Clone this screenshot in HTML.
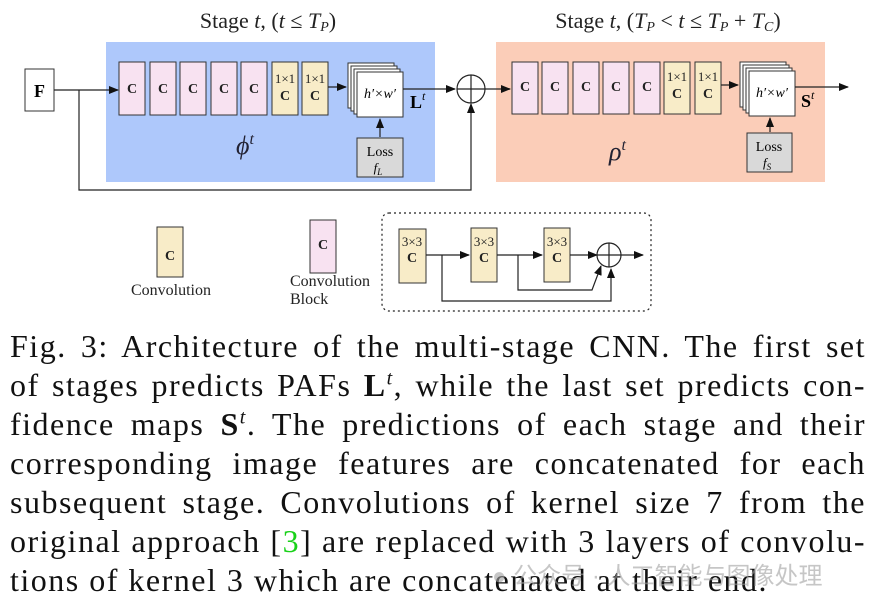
<!DOCTYPE html>
<html><head><meta charset="utf-8"><style>
body{margin:0;width:876px;height:606px;background:#fff;position:relative;overflow:hidden}
svg{position:absolute;left:0;top:0}
.cap{position:absolute;left:10px;width:856px;font-family:"Liberation Serif",serif;font-size:32px;letter-spacing:1.5px;line-height:39px;color:#111}
.ln{display:block;text-align:justify;text-align-last:justify;white-space:nowrap;height:39px}
.last{text-align-last:left}
.wm{position:absolute;left:492px;top:556px;font-family:"Liberation Sans","Noto Sans CJK SC",sans-serif;font-size:24px;color:rgba(160,160,160,0.6)}
</style></head><body>
<svg width="876" height="330" viewBox="0 0 876 330" font-family="Liberation Serif, serif">
<defs><marker id="a" markerWidth="10" markerHeight="8" refX="9" refY="4" orient="auto" markerUnits="userSpaceOnUse"><path d="M0,0L10,4L0,8z" fill="#111"/></marker></defs>
<text x="268" y="28" font-size="22" text-anchor="middle" fill="#222">Stage <tspan font-style="italic">t</tspan>, (<tspan font-style="italic">t</tspan> ≤ <tspan font-style="italic">T<tspan font-size="14" dy="3">P</tspan></tspan><tspan dy="-3">)</tspan></text>
<text x="668" y="28" font-size="22" text-anchor="middle" fill="#222">Stage <tspan font-style="italic">t</tspan>, (<tspan font-style="italic">T<tspan font-size="14" dy="3">P</tspan></tspan><tspan dy="-3"> &lt; </tspan><tspan font-style="italic">t</tspan> ≤ <tspan font-style="italic">T<tspan font-size="14" dy="3">P</tspan></tspan><tspan dy="-3"> + </tspan><tspan font-style="italic">T<tspan font-size="14" dy="3">C</tspan></tspan><tspan dy="-3">)</tspan></text>
<rect x="106" y="42" width="329" height="140" fill="#aec8fb"/>
<rect x="496" y="42" width="329" height="140" fill="#fbcdb8"/>
<rect x="25" y="69" width="29" height="42" fill="#fff" stroke="#333"/>
<text x="39.5" y="97" font-size="18" font-weight="bold" text-anchor="middle">F</text>
<line x1="54" y1="90" x2="118" y2="90" stroke="#222" stroke-width="1.2" marker-end="url(#a)"/>
<polyline points="79,90 79,190 471,190 471,104" fill="none" stroke="#222" stroke-width="1.2" marker-end="url(#a)"/>
<g stroke="#333" stroke-width="1">
<rect x="119" y="62" width="26" height="53" fill="#f8e2f1"/><rect x="150" y="62" width="26" height="53" fill="#f8e2f1"/><rect x="180" y="62" width="26" height="53" fill="#f8e2f1"/><rect x="211" y="62" width="26" height="53" fill="#f8e2f1"/><rect x="241" y="62" width="26" height="53" fill="#f8e2f1"/>
<rect x="272" y="62" width="26" height="53" fill="#f8ecc8"/><rect x="302" y="62" width="26" height="53" fill="#f8ecc8"/>
<rect x="512" y="62" width="26" height="52" fill="#f8e2f1"/><rect x="542" y="62" width="26" height="52" fill="#f8e2f1"/><rect x="573" y="62" width="26" height="52" fill="#f8e2f1"/><rect x="603" y="62" width="26" height="52" fill="#f8e2f1"/><rect x="634" y="62" width="26" height="52" fill="#f8e2f1"/>
<rect x="664" y="62" width="26" height="52" fill="#f8ecc8"/><rect x="695" y="62" width="26" height="52" fill="#f8ecc8"/>
<rect x="348" y="63" width="46" height="45" fill="#fff"/><rect x="351" y="66" width="46" height="45" fill="#fff"/><rect x="354" y="69" width="46" height="45" fill="#fff"/><rect x="357" y="72" width="46" height="45" fill="#fff"/>
<rect x="740" y="62" width="46" height="45" fill="#fff"/><rect x="743" y="65" width="46" height="45" fill="#fff"/><rect x="746" y="68" width="46" height="45" fill="#fff"/><rect x="749" y="71" width="46" height="45" fill="#fff"/>
<rect x="357" y="138" width="46" height="39" fill="#d9d9d9"/><rect x="747" y="133" width="45" height="39" fill="#d9d9d9"/>
<rect x="157" y="227" width="26" height="50" fill="#f8ecc8"/><rect x="310" y="220" width="26" height="53" fill="#f8e2f1"/>
<rect x="399" y="229" width="27" height="54" fill="#f8ecc8"/><rect x="471" y="228" width="26" height="54" fill="#f8ecc8"/><rect x="544" y="228" width="26" height="54" fill="#f8ecc8"/>
</g>
<g font-size="14" font-weight="bold" text-anchor="middle" fill="#222">
<text x="132" y="93">C</text><text x="163" y="93">C</text><text x="193" y="93">C</text><text x="224" y="93">C</text><text x="254" y="93">C</text>
<text x="525" y="91">C</text><text x="555" y="91">C</text><text x="586" y="91">C</text><text x="616" y="91">C</text><text x="647" y="91">C</text>
<text x="285" y="100">C</text><text x="315" y="100">C</text><text x="677" y="98">C</text><text x="708" y="98">C</text>
<text x="170" y="260">C</text><text x="323" y="249">C</text>
<text x="412" y="262">C</text><text x="484" y="262">C</text><text x="557" y="262">C</text>
</g>
<g font-size="13" text-anchor="middle" fill="#222">
<text x="285" y="83">1×1</text><text x="315" y="83">1×1</text><text x="677" y="81">1×1</text><text x="708" y="81">1×1</text>
<text x="412" y="246">3×3</text><text x="484" y="246">3×3</text><text x="557" y="246">3×3</text>
</g>
<text x="380" y="98" font-size="14" font-style="italic" text-anchor="middle">h′×w′</text>
<text x="772" y="97" font-size="14" font-style="italic" text-anchor="middle">h′×w′</text>
<text x="380" y="156" font-size="14" text-anchor="middle">Loss</text><text x="378" y="172" font-size="13" font-style="italic" text-anchor="middle">f<tspan font-size="9" dy="3">L</tspan></text>
<text x="769" y="151" font-size="14" text-anchor="middle">Loss</text><text x="767" y="167" font-size="13" font-style="italic" text-anchor="middle">f<tspan font-size="9" dy="3">S</tspan></text>
<text x="410" y="108" font-size="18" font-weight="bold">L<tspan font-size="12" font-style="italic" font-weight="normal" dy="-8">t</tspan></text>
<text x="801" y="107" font-size="18" font-weight="bold">S<tspan font-size="12" font-style="italic" font-weight="normal" dy="-8">t</tspan></text>
<text x="236" y="154" font-size="26" font-style="italic" fill="#223">ϕ<tspan font-size="16" dy="-10">t</tspan></text>
<text x="609" y="160" font-size="26" font-style="italic" fill="#223">ρ<tspan font-size="16" dy="-10">t</tspan></text>
<g stroke="#222" stroke-width="1.2" fill="none">
<line x1="328" y1="87" x2="346" y2="87" marker-end="url(#a)"/>
<line x1="380" y1="137" x2="380" y2="119" marker-end="url(#a)"/>
<line x1="770" y1="132" x2="770" y2="118" marker-end="url(#a)"/>
<line x1="403" y1="89" x2="455" y2="89" marker-end="url(#a)"/>
<line x1="485" y1="89" x2="510" y2="89" marker-end="url(#a)"/>
<line x1="721" y1="85" x2="738" y2="85" marker-end="url(#a)"/>
<line x1="795" y1="87" x2="848" y2="87" marker-end="url(#a)"/>
<circle cx="471" cy="89" r="14"/><line x1="457" y1="89" x2="485" y2="89"/><line x1="471" y1="75" x2="471" y2="103"/>
<rect x="382" y="213" width="269" height="98" rx="7" stroke-dasharray="2,3"/>
<line x1="426" y1="255" x2="469" y2="255" marker-end="url(#a)"/>
<line x1="497" y1="255" x2="542" y2="255" marker-end="url(#a)"/>
<line x1="570" y1="255" x2="597" y2="255" marker-end="url(#a)"/>
<line x1="621" y1="255" x2="643" y2="255" marker-end="url(#a)"/>
<circle cx="609" cy="255" r="12"/><line x1="597" y1="255" x2="621" y2="255"/><line x1="609" y1="243" x2="609" y2="267"/>
<polyline points="442,255 442,301 611,301 611,269" marker-end="url(#a)"/>
<polyline points="518,255 518,290 592,290 601,266" marker-end="url(#a)"/>
</g>
<text x="171" y="295" font-size="16" text-anchor="middle" fill="#222">Convolution</text>
<text x="290" y="286" font-size="16" fill="#222">Convolution</text>
<text x="290" y="304" font-size="16" fill="#222">Block</text>
</svg>
<div class="cap" style="top:327px">
<span class="ln">Fig. 3: Architecture of the multi-stage CNN. The first set</span>
<span class="ln">of stages predicts PAFs <b>L</b><sup style="font-size:20px;font-style:italic;line-height:0">t</sup>, while the last set predicts con-</span>
<span class="ln">fidence maps <b>S</b><sup style="font-size:20px;font-style:italic;line-height:0">t</sup>. The predictions of each stage and their</span>
<span class="ln">corresponding image features are concatenated for each</span>
<span class="ln">subsequent stage. Convolutions of kernel size 7 from the</span>
<span class="ln">original approach [<span style="color:#19d119">3</span>] are replaced with 3 layers of convolu-</span>
<span class="ln last">tions of kernel 3 which are concatenated at their end.</span>
</div>
<div class="wm">● 公众号 · 人工智能与图像处理</div>
</body></html>
